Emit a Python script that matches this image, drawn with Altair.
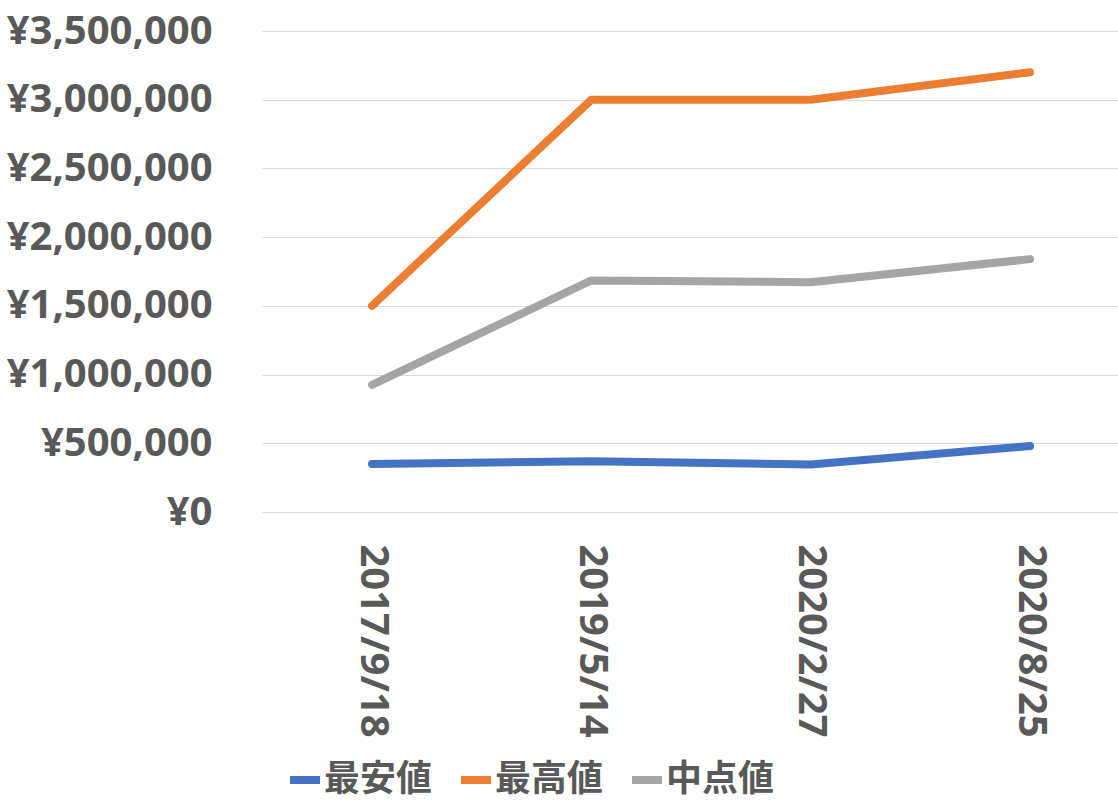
import altair as alt
import pandas as pd

dates = ["2017/9/18", "2019/5/14", "2020/2/27", "2020/8/25"]
series_names = ["最安値", "最高値", "中点値"]
lowest = [350000, 370000, 345000, 480000]
highest = [1500000, 3000000, 3000000, 3200000]
middle = [925000, 1685000, 1672500, 1840000]
colors = ["#4472C4", "#ED7D31", "#A5A5A5"]
y_ticks = [0, 500000, 1000000, 1500000, 2000000, 2500000, 3000000, 3500000]

rows = []
for name, vals in zip(series_names, [lowest, highest, middle]):
    for i, (d, v) in enumerate(zip(dates, vals)):
        rows.append({"idx": i, "date": d, "series": name, "value": v})
df = pd.DataFrame(rows)

text_color = "#595959"
latin_font = "Open Sans"
cjk_font = "Noto Sans CJK JP"

label_expr = "[" + ",".join("'" + d + "'" for d in dates) + "][datum.value]"

chart = alt.Chart(df).mark_line(strokeWidth=8, strokeCap="round", strokeJoin="round").encode(
    x=alt.X("idx:Q",
            scale=alt.Scale(domain=[-0.5015, 3.401], nice=False, zero=False),
            axis=alt.Axis(title=None, values=list(range(len(dates))), labelExpr=label_expr,
                          labelAngle=90, labelAlign="left", labelBaseline="middle",
                          labelPadding=32, labelFontSize=40, labelFont=latin_font,
                          labelFontWeight="bold", labelColor=text_color,
                          labelFlush=False, labelOverlap=False, labelLimit=500,
                          domain=False, ticks=False, grid=False)),
    y=alt.Y("value:Q", scale=alt.Scale(domain=[0, 3500000], nice=False),
            axis=alt.Axis(title=None, values=y_ticks,
                          labelExpr="'¥' + format(datum.value, ',')",
                          labelPadding=50, labelFontSize=40, labelFont=latin_font,
                          labelFontWeight="bold", labelColor=text_color,
                          labelFlush=False, labelOverlap=False, labelLimit=500,
                          domain=False, ticks=False, grid=True,
                          gridColor="#D9D9D9", gridWidth=1)),
    color=alt.Color("series:N", sort=series_names,
                    scale=alt.Scale(domain=series_names, range=colors),
                    legend=alt.Legend(title=None, orient="none", direction="horizontal",
                                      legendX=24, legendY=730, padding=0,
                                      symbolType="stroke", symbolSize=900,
                                      symbolStrokeWidth=8, labelFont=cjk_font,
                                      labelFontSize=36, labelFontWeight="bold",
                                      labelColor=text_color, labelOffset=0,
                                      columnPadding=12, labelLimit=300)),
    order=alt.Order("series:N"),
).properties(
    width=856, height=481,
    autosize=alt.AutoSizeParams(type="none"),
    padding={"left": 262, "top": 31, "right": 0, "bottom": 299},
).configure(background="white").configure_view(stroke=None)

chart.save("out.html", embed_options={"renderer": "svg", "actions": False})
